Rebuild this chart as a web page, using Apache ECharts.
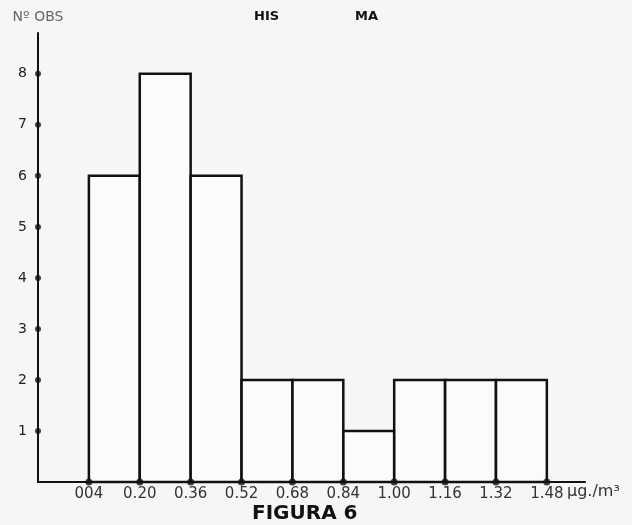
<!DOCTYPE html>
<html>
<head>
<meta charset="utf-8">
<script src="https://cdn.jsdelivr.net/npm/echarts@6/dist/echarts.min.js"></script>
<style>
html,body{margin:0;padding:0;background:#f6f6f4;}
#chart{width:632px;height:525px;}
</style>
</head>
<body>
<div id="chart"></div>
<script>
// Histogram data
const binEdges = [0.04, 0.20, 0.36, 0.52, 0.68, 0.84, 1.00, 1.16, 1.32, 1.48];
const counts = [6, 8, 6, 2, 2, 1, 2, 2, 2];
const tickLabels = ['004', '0.20', '0.36', '0.52', '0.68', '0.84', '1.00', '1.16', '1.32', '1.48'];
const yTicks = [1, 2, 3, 4, 5, 6, 7, 8];

const X_MIN = -0.12, X_MAX = 1.60;
const FONT = 'DejaVu Sans';

const bins = counts.map((c, i) => [binEdges[i], binEdges[i + 1], c]);

const chart = echarts.init(document.getElementById('chart'));
chart.setOption({
  backgroundColor: '#f6f6f4',
  animation: false,
  grid: { left: 38, right: 47, top: 33, bottom: 43 },
  xAxis: {
    type: 'value', min: X_MIN, max: X_MAX,
    axisLine: { show: true, onZero: false, lineStyle: { color: '#111', width: 2 } },
    axisTick: { show: false },
    splitLine: { show: false },
    axisLabel: {
      customValues: binEdges,
      formatter: v => {
        const i = binEdges.findIndex(e => Math.abs(e - v) < 1e-6);
        return i >= 0 ? tickLabels[i] : '';
      },
      color: '#333', fontFamily: FONT, fontSize: 15, margin: 5
    }
  },
  yAxis: {
    type: 'value', min: 0, max: 8.8,
    name: 'Nº OBS',
    nameLocation: 'end',
    nameGap: 9,
    nameTextStyle: { color: '#666', fontFamily: FONT, fontSize: 14, align: 'center' },
    axisLine: { show: true, onZero: false, lineStyle: { color: '#111', width: 2 } },
    axisTick: { show: false },
    splitLine: { show: false },
    axisLabel: {
      customValues: yTicks,
      color: '#222', fontFamily: FONT, fontSize: 14, margin: 11
    }
  },
  series: [
    {
      type: 'custom',
      data: bins,
      renderItem: (params, api) => {
        const p0 = api.coord([api.value(0), 0]);
        const p1 = api.coord([api.value(1), api.value(2)]);
        return {
          type: 'rect',
          shape: { x: p0[0], y: p1[1], width: p1[0] - p0[0], height: p0[1] - p1[1] },
          style: { fill: 'rgba(255,255,255,0.6)', stroke: '#111', lineWidth: 2.5 }
        };
      },
      encode: { x: [0, 1], y: 2 }
    },
    {
      type: 'scatter',
      data: binEdges.map(e => [e, 0]),
      symbol: 'circle', symbolSize: 7,
      itemStyle: { color: '#111' },
      clip: false, z: 5
    },
    {
      type: 'scatter',
      data: yTicks.map(v => [X_MIN, v]),
      symbol: 'circle', symbolSize: 6,
      itemStyle: { color: '#111' },
      clip: false, z: 5
    }
  ],
  graphic: [
    { type: 'text', left: 254, top: 10, style: { text: 'HIS', font: 'bold 13px "' + FONT + '"', fill: '#111' } },
    { type: 'text', left: 355, top: 10, style: { text: 'MA', font: 'bold 13px "' + FONT + '"', fill: '#111' } },
    { type: 'text', left: 567, top: 484, style: { text: 'µg./m³', font: '16px "' + FONT + '"', fill: '#333' } },
    { type: 'text', left: 252, top: 504, style: { text: 'FIGURA 6', font: 'bold 20px "' + FONT + '"', fill: '#111' } }
  ]
});
</script>
</body>
</html>
